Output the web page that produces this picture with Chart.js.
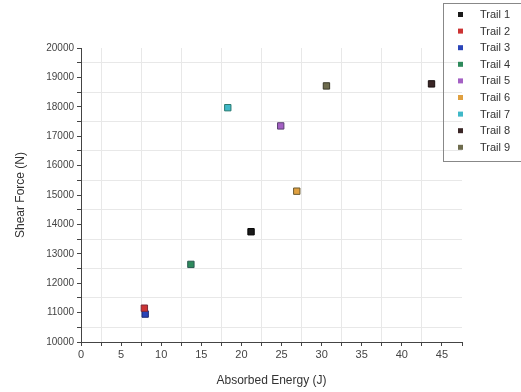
<!DOCTYPE html>
<html>
<head>
<meta charset="utf-8">
<script src="https://cdn.jsdelivr.net/npm/chart.js@4.4.1/dist/chart.umd.min.js"></script>
<style>
  html, body { margin: 0; padding: 0; background: #fff; }
  #wrap { width: 521px; height: 392px; position: relative; }
</style>
</head>
<body>
<div id="wrap"><canvas id="c" width="521" height="392"></canvas></div>
<script>
const trails = ['Trail 1','Trail 2','Trail 3','Trail 4','Trail 5','Trail 6','Trail 7','Trail 8','Trail 9'];
const energy = [21.2, 7.9, 8.0, 13.7, 24.9, 26.9, 18.3, 43.7, 30.6];
const force = [13750, 11150, 10950, 12640, 17350, 15130, 17970, 18780, 18710];
const fills = ['#1a1a1a','#cc3333','#2a44b8','#2e8a5c','#a460c4','#e0a040','#40b8c8','#3a2626','#6e6c4e'];
const edges = ['#000000','#7a2a3a','#1c2a70','#2a5a50','#5a4070','#6a5a30','#2a7a70','#1a1010','#3a3a2a'];

const font = "'Liberation Sans', Arial, sans-serif";

// legend box in the top right corner, like the original
const legendBox = {
  id: 'legendBox',
  afterDraw(chart) {
    const ctx = chart.ctx;
    ctx.save();
    ctx.strokeStyle = '#888';
    ctx.lineWidth = 1;
    ctx.strokeRect(443.5, 3.5, 90, 158);
    ctx.font = '11px ' + font;
    ctx.textBaseline = 'middle';
    chart.data.datasets.forEach((ds, i) => {
      const y = 15 + i * 16.6;
      ctx.fillStyle = ds.backgroundColor;
      ctx.fillRect(458, y - 3, 5, 5);
      ctx.fillStyle = '#333';
      ctx.fillText(ds.label, 480, y);
    });
    ctx.restore();
  }
};

new Chart(document.getElementById('c'), {
  type: 'scatter',
  data: {
    datasets: trails.map((t, i) => ({
      label: t,
      data: [{ x: energy[i], y: force[i] }],
      backgroundColor: fills[i],
      borderColor: edges[i],
      borderWidth: 1,
      pointStyle: 'rect',
      pointRadius: 4.5
    }))
  },
  options: {
    responsive: false,
    animation: false,
    layout: { padding: { top: 48, right: 59, left: 0, bottom: 0 } },
    plugins: { legend: { display: false }, tooltip: { enabled: false } },
    scales: {
      x: {
        type: 'linear', min: 0, max: 47.5,
        afterFit: s => { s.height = 50; },
        border: { color: '#444', width: 1 },
        grid: {
          color: c => (c.tick && c.tick.value % 5 !== 0 && c.tick.value < 47.5) ? '#e8e8e8' : 'rgba(0,0,0,0)',
          tickColor: '#444', tickLength: 4
        },
        ticks: {
          stepSize: 2.5, autoSkip: false, maxRotation: 0, color: '#444',
          font: { family: font, size: 11 }, padding: 2,
          callback: v => v % 5 === 0 ? String(v) : ''
        },
        title: { display: true, text: 'Absorbed Energy (J)', color: '#333', font: { family: font, size: 12 }, padding: { top: 4 } }
      },
      y: {
        type: 'linear', min: 10000, max: 20000,
        afterFit: s => { s.width = 81; },
        border: { color: '#444', width: 1 },
        grid: {
          color: c => (c.tick && c.tick.value % 1000 !== 0) ? '#e8e8e8' : 'rgba(0,0,0,0)',
          tickColor: '#444', tickLength: 4
        },
        ticks: {
          stepSize: 500, autoSkip: false, color: '#444',
          font: { family: font, size: 10 }, padding: 3,
          callback: v => v % 1000 === 0 ? String(v) : ''
        },
        title: { display: true, text: 'Shear Force (N)', color: '#333', font: { family: font, size: 12 }, padding: { top: 13, bottom: 2 } }
      }
    }
  },
  plugins: [legendBox]
});
</script>
</body>
</html>
